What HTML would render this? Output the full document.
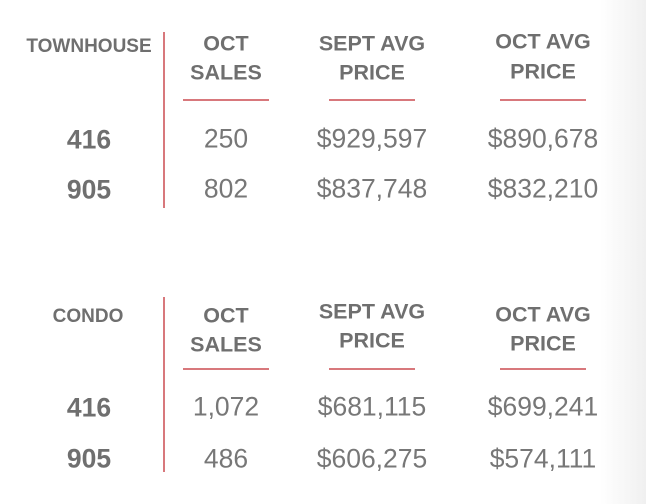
<!DOCTYPE html>
<html><head><style>
body{margin:0;width:646px;height:504px;overflow:hidden;position:relative;font-family:"Liberation Sans",sans-serif;color:#6f6f6f;background:linear-gradient(to right,#fff 0,#fff 600px,#f0f0f0 646px);}
.t{position:absolute;text-align:center;white-space:nowrap;transform:translate(-50%,-50%);}
.h{font-weight:bold;font-size:21.5px;}
.s{font-weight:bold;font-size:19px;}
.v{font-size:26.5px;color:#777;}
.r{font-weight:bold;font-size:26.5px;}
.u{position:absolute;height:2px;background:#d8787c;}
.vl{position:absolute;width:2px;background:#d8787c;left:163px;}
</style></head><body>
<div class="t s" style="left:89px;top:47px">TOWNHOUSE</div>
<div class="t h" style="left:226px;top:44px">OCT</div>
<div class="t h" style="left:226px;top:73px">SALES</div>
<div class="t h" style="left:372px;top:44px">SEPT AVG</div>
<div class="t h" style="left:372px;top:73px">PRICE</div>
<div class="t h" style="left:543px;top:42px">OCT AVG</div>
<div class="t h" style="left:543px;top:72px">PRICE</div>
<div class="u" style="left:183px;width:86px;top:99px"></div>
<div class="u" style="left:329px;width:86px;top:99px"></div>
<div class="u" style="left:500px;width:86px;top:99px"></div>
<div class="vl" style="top:32px;height:176px"></div>
<div class="t r" style="left:89px;top:140px">416</div>
<div class="t v" style="left:226px;top:139px">250</div>
<div class="t v" style="left:372px;top:139px">$929,597</div>
<div class="t v" style="left:543px;top:139px">$890,678</div>
<div class="t r" style="left:89px;top:190px">905</div>
<div class="t v" style="left:226px;top:189px">802</div>
<div class="t v" style="left:372px;top:189px">$837,748</div>
<div class="t v" style="left:543px;top:189px">$832,210</div>

<div class="t s" style="left:88px;top:317px">CONDO</div>
<div class="t h" style="left:226px;top:316px">OCT</div>
<div class="t h" style="left:226px;top:345px">SALES</div>
<div class="t h" style="left:372px;top:312px">SEPT AVG</div>
<div class="t h" style="left:372px;top:341px">PRICE</div>
<div class="t h" style="left:543px;top:315px">OCT AVG</div>
<div class="t h" style="left:543px;top:344px">PRICE</div>
<div class="u" style="left:183px;width:86px;top:368px"></div>
<div class="u" style="left:329px;width:86px;top:368px"></div>
<div class="u" style="left:500px;width:86px;top:368px"></div>
<div class="vl" style="top:297px;height:175px"></div>
<div class="t r" style="left:89px;top:408px">416</div>
<div class="t v" style="left:226px;top:407px">1,072</div>
<div class="t v" style="left:372px;top:407px">$681,115</div>
<div class="t v" style="left:543px;top:407px">$699,241</div>
<div class="t r" style="left:89px;top:459px">905</div>
<div class="t v" style="left:226px;top:459px">486</div>
<div class="t v" style="left:372px;top:459px">$606,275</div>
<div class="t v" style="left:543px;top:459px">$574,111</div>
</body></html>
